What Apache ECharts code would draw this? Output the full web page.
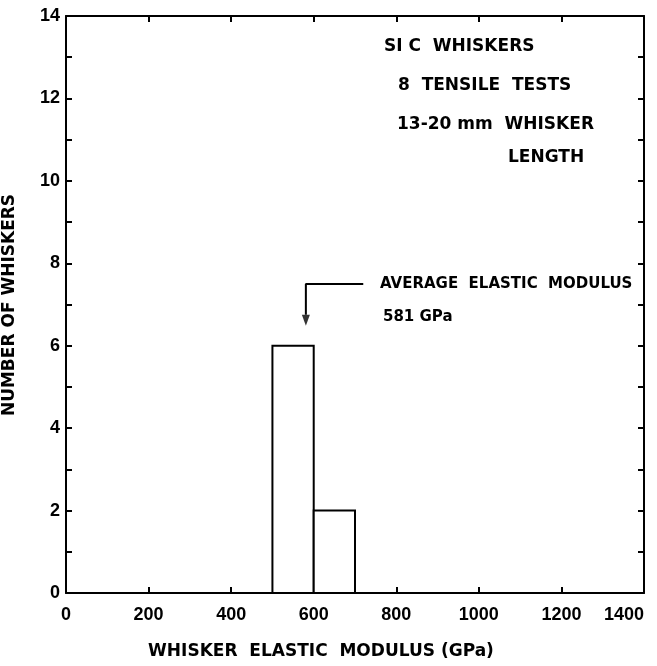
<!DOCTYPE html>
<html><head><meta charset="utf-8">
<script src="https://cdn.jsdelivr.net/npm/echarts@6/dist/echarts.min.js"></script>
<style>html,body{margin:0;padding:0;background:#fff}#c{width:657px;height:666px}</style>
</head><body><div id="c"></div>
<script>
// Histogram bins: [start, end, count]
const binStarts = [500, 600];
const binEnds = [600, 700];
const binCounts = [6, 2];
// Arrow pointing at average modulus (581 GPa)
const arrowPath = [[720, 7.5], [581, 7.5], [581, 6.75]];
const arrowTip = [[581, 6.62]];
const xTicks = [0, 200, 400, 600, 800, 1000, 1200, 1400];
const yTicks = [0, 2, 4, 6, 8, 10, 12, 14];

const TXT = '"DejaVu Sans"';
const chart = echarts.init(document.getElementById('c'), null, {renderer: 'canvas'});
const bins = binStarts.map((s, i) => [s, binEnds[i], binCounts[i]]);
const axisLine = {show: true, onZero: false, lineStyle: {color: '#000', width: 2}};
const tick = {show: true, inside: true, length: 6, lineStyle: {color: '#000', width: 2}};
const numLabel = {color: '#000', fontFamily: 'Liberation Sans', fontWeight: 'bold', fontSize: 18};
chart.setOption({
  animation: false,
  backgroundColor: '#fff',
  grid: {left: 66, top: 16, right: 13, bottom: 73, containLabel: false, outerBoundsMode: 'none'},
  xAxis: [{
    type: 'value', min: xTicks[0], max: xTicks[xTicks.length - 1], interval: 200,
    axisLine, axisTick: tick, splitLine: {show: false},
    axisLabel: Object.assign({}, numLabel, {margin: 13, alignMaxLabel: 'right', formatter: v => String(v)})
  }, {
    type: 'value', position: 'top', min: 0, max: 1400, interval: 200,
    axisLine, axisTick: tick, axisLabel: {show: false}, splitLine: {show: false}
  }],
  yAxis: [{
    type: 'value', min: yTicks[0], max: yTicks[yTicks.length - 1], interval: 1,
    axisLine, axisTick: tick, splitLine: {show: false},
    axisLabel: Object.assign({}, numLabel, {margin: 6,
      formatter: v => (yTicks.indexOf(v) >= 0 ? String(v) : '')})
  }, {
    type: 'value', position: 'right', min: 0, max: 14, interval: 1,
    axisLine, axisTick: tick, axisLabel: {show: false}, splitLine: {show: false}
  }],
  series: [{
    type: 'custom',
    data: bins,
    renderItem: (params, api) => {
      const p0 = api.coord([api.value(0), api.value(2)]);
      const p1 = api.coord([api.value(1), 0]);
      return {type: 'rect', shape: {x: p0[0], y: p0[1], width: p1[0] - p0[0], height: p1[1] - p0[1]},
        style: {fill: '#fff', stroke: '#000', lineWidth: 2}};
    },
    z: 1
  }, {
    type: 'line', data: arrowPath, symbol: 'none', lineStyle: {color: '#000', width: 2}, z: 3
  }, {
    type: 'scatter', data: arrowTip, symbol: 'triangle', symbolSize: [8, 11], symbolRotate: 180,
    itemStyle: {color: '#000'}, z: 3
  }, {
    type: 'line', xAxisIndex: 1, yAxisIndex: 1, data: [], symbol: 'none'
  }],
  graphic: [
    {type: 'text', x: 321, y: 652, style: {text: 'WHISKER  ELASTIC  MODULUS (GPa)', font: 'bold 17px ' + TXT, fill: '#000', align: 'center', verticalAlign: 'middle'}},
    {type: 'text', x: 10, y: 305, rotation: Math.PI / 2, style: {text: 'NUMBER OF WHISKERS', font: 'bold 17px ' + TXT, fill: '#000', align: 'center', verticalAlign: 'middle'}},
    {type: 'text', x: 384, y: 47, style: {text: 'SI C  WHISKERS', font: 'bold 17px ' + TXT, fill: '#000', verticalAlign: 'middle'}},
    {type: 'text', x: 398, y: 86, style: {text: '8  TENSILE  TESTS', font: 'bold 17px ' + TXT, fill: '#000', verticalAlign: 'middle'}},
    {type: 'text', x: 397, y: 125, style: {text: '13-20 mm  WHISKER', font: 'bold 17px ' + TXT, fill: '#000', verticalAlign: 'middle'}},
    {type: 'text', x: 508, y: 158, style: {text: 'LENGTH', font: 'bold 17px ' + TXT, fill: '#000', verticalAlign: 'middle'}},
    {type: 'text', x: 380, y: 284, style: {text: 'AVERAGE  ELASTIC  MODULUS', font: 'bold 15px ' + TXT, fill: '#000', verticalAlign: 'middle'}},
    {type: 'text', x: 383, y: 317, style: {text: '581 GPa', font: 'bold 15px ' + TXT, fill: '#000', verticalAlign: 'middle'}}
  ]
});
</script></body></html>
